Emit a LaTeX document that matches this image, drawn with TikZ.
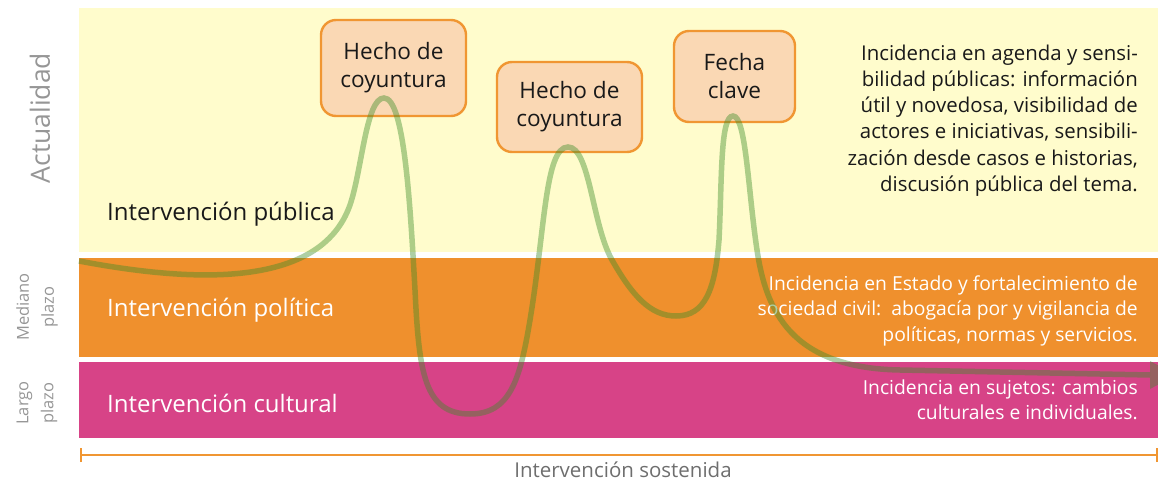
\documentclass[tikz,border=0pt]{standalone}
\usepackage{fontspec}
\setmainfont{Open Sans}
\definecolor{bandY}{RGB}{255,252,204}
\definecolor{bandO}{RGB}{239,144,45}
\definecolor{bandP}{RGB}{215,67,135}
\definecolor{boxF}{RGB}{250,216,180}
\definecolor{boxD}{RGB}{240,150,50}
\definecolor{curveG}{RGB}{60,140,40}
\definecolor{labG}{RGB}{150,150,150}
\definecolor{txtD}{RGB}{25,25,25}
\definecolor{sosG}{RGB}{110,110,110}
\begin{document}
\begin{tikzpicture}[x=1pt,y=-1pt,
  band/.style={draw=none, inner sep=0pt, anchor=north west},
  evbox/.style={draw=boxD, fill=boxF, line width=2.4pt, rounded corners=15pt, inner sep=0pt, align=center, text=txtD, font=\fontsize{22.6}{28}\selectfont},
  bandlabel/.style={anchor=west, inner sep=0pt, font=\fontsize{24}{28}\selectfont},
  desc/.style={align=right, inner sep=0pt, anchor=east},
  sidelab/.style={rotate=90, align=center, text=labG, inner sep=0pt},
  trend/.style={draw=curveG, draw opacity=0.42, line width=5.5pt},
  timeline/.style={draw=boxD, line width=2pt}]
\useasboundingbox (0,0) rectangle (1158,484);
% bands
\node[band, fill=bandY, minimum width=1079pt, minimum height=244pt] (pub) at (79,8) {};
\node[band, fill=bandO, minimum width=1079pt, minimum height=99pt] (pol) at (79,258) {};
\node[band, fill=bandP, minimum width=1079pt, minimum height=76pt] (cul) at (79,362) {};
% band labels
\node[bandlabel, text=txtD] (lpub) at (107,214) {Intervención pública};
\node[bandlabel, text=white] (lpol) at (107,310) {Intervención política};
\node[bandlabel, text=white] (lcul) at (107,403) {Intervención cultural};
% descriptions
\node[desc, text=txtD, font=\fontsize{20.4}{26.2}\selectfont] (dpub) at (1138,120.5) {Incidencia en agenda y sensi-\\bilidad públicas: información\\útil y novedosa, visibilidad de\\actores e iniciativas, sensibili-\\zación desde casos e historias,\\discusión pública del tema.};
\node[desc, text=white, font=\fontsize{19.3}{25.5}\selectfont] (dpol) at (1138,310.5) {Incidencia en Estado y fortalecimiento de\\sociedad civil:\ \ abogacía por y vigilancia de\\políticas, normas y servicios.};
\node[desc, text=white, font=\fontsize{19.3}{25.5}\selectfont] (dcul) at (1138,400) {Incidencia en sujetos: cambios\\culturales e individuales.};
% side labels
\node[sidelab, font=\fontsize{26.5}{30}\selectfont] (sact) at (40,118) {Actualidad};
\node[sidelab, font=\fontsize{16.5}{25}\selectfont] (smed) at (37,307) {Mediano\\plazo};
\node[sidelab, font=\fontsize{16.5}{25}\selectfont] (slar) at (37,403) {Largo\\plazo};
% event boxes
\node[evbox, minimum width=145pt, minimum height=96pt] (b1) at (393.5,68) {Hecho de\\coyuntura};
\node[evbox, minimum width=145pt, minimum height=90pt] (b2) at (569.5,107) {Hecho de\\coyuntura};
\node[evbox, minimum width=121pt, minimum height=91pt] (b3) at (734.5,76.5) {Fecha\\clave};
% timeline
\coordinate (tl) at (80.5,455);
\coordinate (tr) at (1157,455);
\draw[timeline] (tl) -- (tr);
\draw[timeline] ([yshift=-7pt]tl) -- ([yshift=7pt]tl);
\draw[timeline] ([yshift=-7pt]tr) -- ([yshift=7pt]tr);
\node[text=sosG, font=\fontsize{20.5}{24}\selectfont, inner sep=0pt] (sos) at (623,470) {Intervención sostenida};
% trend curve
\coordinate (cs) at (79,261);
\coordinate (ce) at (1150,375);
\path[trend] (cs) .. controls (190,282) and (320,290) .. (350,205)
  .. controls (362,170) and (366,98) .. (384,98)
  .. controls (404,98) and (410,200) .. (415,290)
  .. controls (419,372) and (424,414) .. (470,414)
  .. controls (510,414) and (520,380) .. (530,320)
  .. controls (545,230) and (545,147) .. (568,147)
  .. controls (590,147) and (592,225) .. (612,260)
  .. controls (632,295) and (650,316) .. (676,316)
  .. controls (705,316) and (715,290) .. (719,240)
  .. controls (722,180) and (720,116) .. (733,116)
  .. controls (746,116) and (748,190) .. (757,250)
  .. controls (766,310) and (790,368) .. (900,370)
  -- (ce);
\fill[curveG, fill opacity=0.42] ([yshift=-14pt]ce) -- ([xshift=26pt]ce) -- ([yshift=14pt]ce) -- cycle;
\end{tikzpicture}
\end{document}
